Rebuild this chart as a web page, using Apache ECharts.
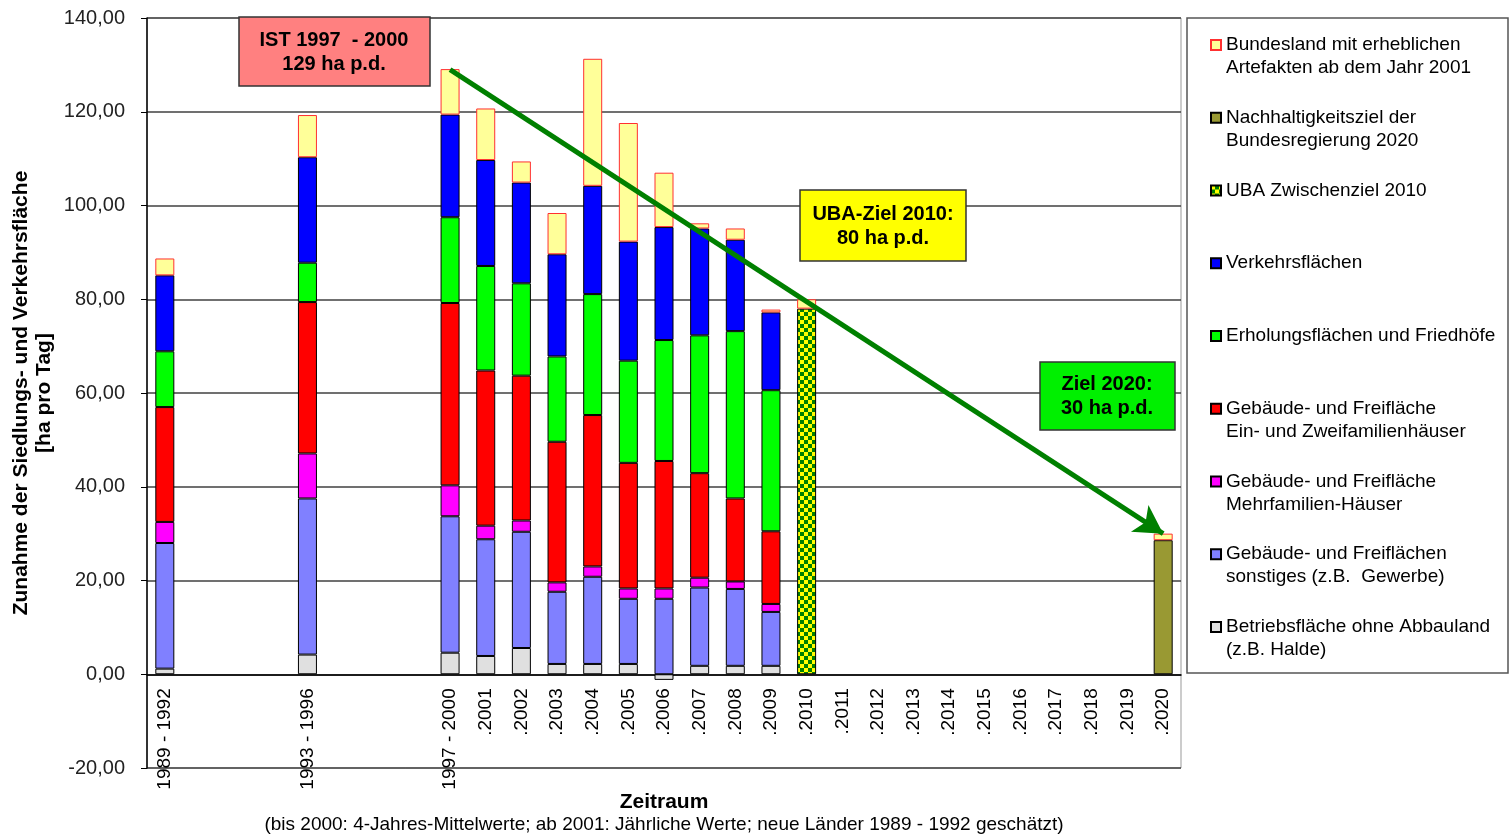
<!DOCTYPE html>
<html>
<head>
<meta charset="utf-8">
<script src="https://cdn.jsdelivr.net/npm/echarts@6.0.0/dist/echarts.min.js"></script>
<style>
  html, body { margin: 0; padding: 0; background: #fff; }
  #chart { width: 1510px; height: 838px; }
</style>
</head>
<body>
<div id="chart"></div>
<script>
var _ = null;
// 29 Kategorien: 3 Vierjahres-Mittel mit Lücken, dann 2001 - 2020
var periods = ['1989 - 1992', '', '', '', '1993 - 1996', '', '', '', '1997 - 2000',
  '.2001', '.2002', '.2003', '.2004', '.2005', '.2006', '.2007', '.2008', '.2009', '.2010',
  '.2011', '.2012', '.2013', '.2014', '.2015', '.2016', '.2017', '.2018', '.2019', '.2020'];

var betrieb    = [1.2,_,_,_, 4.2,_,_,_, 4.6, 3.9, 5.6, 2.2, 2.2, 2.2, -1.2, 1.8, 1.8, 1.8, _, _,_,_,_,_,_,_,_,_, _];
var sonstiges  = [26.8,_,_,_, 33.3,_,_,_, 29.1, 24.9, 24.8, 15.4, 18.6, 13.9, 16.1, 16.7, 16.4, 11.5, _, _,_,_,_,_,_,_,_,_, _];
var mehrfam    = [4.5,_,_,_, 9.6,_,_,_, 6.6, 2.9, 2.4, 2.0, 2.2, 2.2, 2.2, 2.1, 1.6, 1.7, _, _,_,_,_,_,_,_,_,_, _];
var einzwei    = [24.5,_,_,_, 32.3,_,_,_, 38.9, 33.1, 30.9, 30.0, 32.3, 26.8, 27.2, 22.3, 17.7, 15.5, _, _,_,_,_,_,_,_,_,_, _];
var erholung   = [11.9,_,_,_, 8.4,_,_,_, 18.3, 22.3, 19.7, 18.2, 25.8, 21.8, 25.8, 29.4, 35.7, 30.1, _, _,_,_,_,_,_,_,_,_, _];
var verkehr    = [16.2,_,_,_, 22.5,_,_,_, 21.9, 22.6, 21.5, 21.8, 23.1, 25.4, 24.1, 22.8, 19.5, 16.6, _, _,_,_,_,_,_,_,_,_, _];
var ubaZiel    = [_,_,_,_, _,_,_,_, _, _,_,_,_,_,_,_,_,_, 78.0, _,_,_,_,_,_,_,_,_, _];
var ziel2020   = [_,_,_,_, _,_,_,_, _, _,_,_,_,_,_,_,_,_, _, _,_,_,_,_,_,_,_,_, 28.6];
var artefakte  = [3.6,_,_,_, 9.0,_,_,_, 9.7, 11.0, 4.5, 8.8, 27.1, 25.3, 11.6, 1.1, 2.4, 0.6, 2.0, _,_,_,_,_,_,_,_,_, 1.4];

var yTicks = [-20, 0, 20, 40, 60, 80, 100, 120, 140];

var names = {
  betrieb: 'Betriebsfläche ohne Abbauland\n(z.B. Halde)',
  sonstiges: 'Gebäude- und Freiflächen\nsonstiges (z.B.  Gewerbe)',
  mehrfam: 'Gebäude- und Freifläche\nMehrfamilien-Häuser',
  einzwei: 'Gebäude- und Freifläche\nEin- und Zweifamilienhäuser',
  erholung: 'Erholungsflächen und Friedhöfe',
  verkehr: 'Verkehrsflächen',
  uba: 'UBA Zwischenziel 2010',
  ziel: 'Nachhaltigkeitsziel der\nBundesregierung 2020',
  artefakte: 'Bundesland mit erheblichen\nArtefakten ab dem Jahr 2001'
};
// Reihenfolge in der Legende (oben nach unten)
var legendOrder = ['artefakte', 'ziel', 'uba', 'verkehr', 'erholung', 'einzwei', 'mehrfam', 'sonstiges', 'betrieb'];

var FONT = '"Liberation Sans", Arial, sans-serif';

// Plotfläche
var gridTop = 18, gridHeight = 750;

// Schachbrettmuster für UBA-Ziel
var pat = document.createElement('canvas');
pat.width = 8; pat.height = 8;
var pc = pat.getContext('2d');
pc.fillStyle = '#008000'; pc.fillRect(0, 0, 8, 8);
pc.fillStyle = '#ffff00'; pc.fillRect(0, 0, 4, 4); pc.fillRect(4, 4, 4, 4);

function bar(key, data, color, border) {
  return {
    name: names[key],
    type: 'bar',
    stack: 'flaeche',
    barWidth: 19,
    data: data,
    itemStyle: { color: color, borderColor: border || '#000', borderWidth: 1 }
  };
}

var series = [
  bar('betrieb', betrieb, '#e0e0e0'),
  bar('sonstiges', sonstiges, '#8080ff'),
  bar('mehrfam', mehrfam, '#ff00ff'),
  bar('einzwei', einzwei, '#ff0000'),
  bar('erholung', erholung, '#00ff00'),
  bar('verkehr', verkehr, '#0000ff'),
  bar('uba', ubaZiel, { image: pat, repeat: 'repeat' }),
  bar('ziel', ziel2020, '#999933'),
  bar('artefakte', artefakte, '#ffff99', '#ff3030')
];
// Trendpfeil 129 ha -> 30 ha
series[8].markLine = {
  silent: true,
  symbol: ['none', 'arrow'],
  symbolSize: [24, 28],
  label: { show: false },
  lineStyle: { color: '#008000', width: 5, type: 'solid' },
  data: [[{ coord: ['1997 - 2000', 129] }, { coord: ['.2020', 30] }]]
};

// eine Legende pro Eintrag; zweizeilige Namen bekommen eine Leerzeile davor,
// damit das Symbol auf Höhe der ersten Zeile sitzt
var legends = legendOrder.map(function (key, i) {
  var twoLines = names[key].indexOf('\n') >= 0;
  var cy = 45 + i * 72.75;
  return {
    left: 1210,
    top: twoLines ? cy - 34.5 : cy - 11.5,
    padding: 0,
    itemWidth: 10,
    itemHeight: 10,
    itemGap: 0,
    icon: 'rect',
    selectedMode: false,
    data: [names[key]],
    formatter: function (name) { return twoLines ? ' \n' + name : name; },
    textStyle: { fontFamily: FONT, fontSize: 19, color: '#000', lineHeight: 23 }
  };
});

// x-Achse auf die Nulllinie legen
var yMin = yTicks[0], yMax = yTicks[yTicks.length - 1];
var zeroOffset = -gridHeight * (0 - yMin) / (yMax - yMin);

var myChart = echarts.init(document.getElementById('chart'));
var option = {
  animation: false,
  backgroundColor: '#fff',
  legend: legends,
  grid: {
    left: 147, top: gridTop, width: 1034, height: gridHeight,
    outerBoundsMode: 'none', containLabel: false,
    show: true, borderColor: '#999', borderWidth: 1
  },
  xAxis: {
    type: 'category',
    data: periods,
    position: 'bottom',
    offset: zeroOffset,
    axisLine: { onZero: false, lineStyle: { color: '#000', width: 1.5 } },
    axisTick: { interval: 0, length: 6, lineStyle: { color: '#000' } },
    axisLabel: {
      interval: 0, rotate: 90, margin: 14,
      fontFamily: FONT, fontSize: 19, color: '#000'
    },
    name: '{t|Zeitraum}\n{s|(bis 2000: 4-Jahres-Mittelwerte; ab 2001: Jährliche Werte; neue Länder 1989 - 1992 geschätzt)}',
    nameLocation: 'middle',
    nameGap: 117,
    nameMoveOverlap: false,
    nameTextStyle: {
      rich: {
        t: { fontFamily: FONT, fontSize: 21, fontWeight: 'bold', color: '#000', lineHeight: 22 },
        s: { fontFamily: FONT, fontSize: 19, color: '#000', lineHeight: 24 }
      }
    }
  },
  yAxis: {
    type: 'value',
    min: yMin,
    max: yMax,
    interval: 20,
    axisLine: { show: true, lineStyle: { color: '#000', width: 1.5 } },
    axisTick: { show: true, length: 6, lineStyle: { color: '#000' } },
    axisLabel: {
      margin: 22, fontFamily: FONT, fontSize: 20, color: '#222',
      formatter: function (v) { return v.toFixed(2).replace('.', ','); }
    },
    splitLine: { show: true, lineStyle: { color: '#404040', width: 1.5 } },
    name: 'Zunahme der Siedlungs- und Verkehrsfläche\n[ha pro Tag]',
    nameLocation: 'middle',
    nameRotate: 90,
    nameGap: 91,
    nameMoveOverlap: false,
    nameTextStyle: { fontFamily: FONT, fontSize: 21, fontWeight: 'bold', color: '#000', lineHeight: 23 }
  },
  graphic: [
    { type: 'rect', shape: { x: 1187, y: 18, width: 321, height: 655 },
      style: { fill: 'none', stroke: '#555', lineWidth: 1.5 }, z: 50 },
    { type: 'rect', shape: { x: 239, y: 17, width: 191, height: 69 },
      style: { fill: '#ff8080', stroke: '#333', lineWidth: 1.5 }, z: 100 },
    { type: 'text', x: 334, y: 52, z: 101,
      style: { text: 'IST 1997  - 2000\n129 ha p.d.', align: 'center', verticalAlign: 'middle',
        font: 'bold 20px ' + FONT, fill: '#000', lineHeight: 24 } },
    { type: 'rect', shape: { x: 800, y: 190, width: 166, height: 71 },
      style: { fill: '#ffff00', stroke: '#333', lineWidth: 1.5 }, z: 100 },
    { type: 'text', x: 883, y: 226, z: 101,
      style: { text: 'UBA-Ziel 2010:\n80 ha p.d.', align: 'center', verticalAlign: 'middle',
        font: 'bold 20px ' + FONT, fill: '#000', lineHeight: 24 } },
    { type: 'rect', shape: { x: 1040, y: 362, width: 135, height: 68 },
      style: { fill: '#00f000', stroke: '#333', lineWidth: 1.5 }, z: 100 },
    { type: 'text', x: 1107, y: 396, z: 101,
      style: { text: 'Ziel 2020:\n30 ha p.d.', align: 'center', verticalAlign: 'middle',
        font: 'bold 20px ' + FONT, fill: '#000', lineHeight: 24 } }
  ],
  series: series
};
myChart.setOption(option);
</script>
</body>
</html>
